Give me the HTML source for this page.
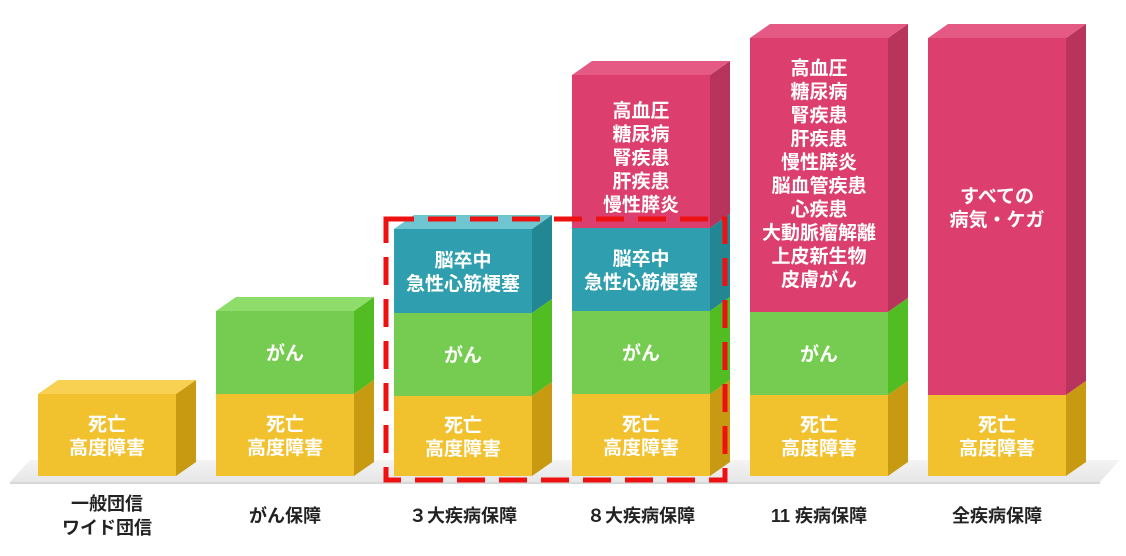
<!DOCTYPE html>
<html><head><meta charset="utf-8"><style>
html,body{margin:0;padding:0;background:#fff;width:1126px;height:556px;overflow:hidden}
svg text{font-family:"Liberation Sans","Noto Sans CJK JP",sans-serif;font-weight:bold;text-anchor:middle}
</style></head><body>
<svg id="s" width="1126" height="556" viewBox="0 0 1126 556" xmlns="http://www.w3.org/2000/svg">
<defs><linearGradient id="fl" x1="0" y1="0" x2="0" y2="1"><stop offset="0" stop-color="#f4f4f4"/><stop offset="1" stop-color="#e6e6e6"/></linearGradient></defs>
<polygon points="30,460 1120,460 1100,482 10,482" fill="url(#fl)"/>
<line x1="10" y1="483" x2="1100" y2="483" stroke="#d8d8d8" stroke-width="2"/>
<g id="bars"></g>
<rect x="386" y="219" width="339" height="261" fill="none" stroke="#ee1111" stroke-width="5" stroke-dasharray="28,14"/>
<g fill="#222" font-size="18">
<text x="107" y="510">一般団信</text><text x="107" y="534">ワイド団信</text>
<text x="285" y="522">がん保障</text>
<text x="463" y="522">３大疾病保障</text>
<text x="641" y="522">８大疾病保障</text>
<text x="819" y="522">11 疾病保障</text>
<text x="997" y="522">全疾病保障</text>
</g>
</svg>
<script>
var C={y:["#f2c12e","#f8d052","#c79a12"],g:["#76cc50","#8edc6a","#51bd22"],t:["#2f9eae","#6fc5d0","#238693"],p:["#dc3f6d","#e45a84","#b9345d"]};
var cols=[
 {x:38,s:[["y",394,476,["死亡","高度障害"]]]},
 {x:216,s:[["g",311,394,["がん"]],["y",394,476,["死亡","高度障害"]]]},
 {x:394,s:[["t",229,313,["脳卒中","急性心筋梗塞"]],["g",313,396,["がん"]],["y",396,476,["死亡","高度障害"]]]},
 {x:572,s:[["p",75,228,["高血圧","糖尿病","腎疾患","肝疾患","慢性膵炎"]],["t",228,311,["脳卒中","急性心筋梗塞"]],["g",311,394,["がん"]],["y",394,476,["死亡","高度障害"]]]},
 {x:750,s:[["p",38,312,["高血圧","糖尿病","腎疾患","肝疾患","慢性膵炎","脳血管疾患","心疾患","大動脈瘤解離","上皮新生物","皮膚がん"]],["g",312,395,["がん"]],["y",395,476,["死亡","高度障害"]]]},
 {x:928,s:[["p",38,395,["すべての","病気・ケガ"]],["y",395,476,["死亡","高度障害"]]]}
];
var h="";
cols.forEach(function(c){
 var x=c.x,w=138,d=20,k=14;
 c.s.forEach(function(s,i){
  var col=C[s[0]],y1=s[1],y2=s[2];
  h+='<rect x="'+x+'" y="'+y1+'" width="'+w+'" height="'+(y2-y1)+'" fill="'+col[0]+'"/>';
  h+='<polygon points="'+(x+w)+','+y1+' '+(x+w+d)+','+(y1-k)+' '+(x+w+d)+','+(y2-k)+' '+(x+w)+','+y2+'" fill="'+col[2]+'"/>';
  if(i==0)h+='<polygon points="'+x+','+y1+' '+(x+d)+','+(y1-k)+' '+(x+w+d)+','+(y1-k)+' '+(x+w)+','+y1+'" fill="'+col[1]+'"/>';
  var L=s[3],lh=23.5,cy;
  if(s[0]=="p"&&c.x==572)cy=157;else if(s[0]=="p"&&c.x==750)cy=173;else if(s[0]=="p")cy=207;else cy=(y1+y2)/2;
  var top=cy-(L.length-1)*lh/2+7;
  L.forEach(function(t,j){h+='<text x="'+(x+w/2)+'" y="'+(top+j*lh)+'" fill="#fff" font-size="19">'+t+'</text>';});
 });
});
document.getElementById("bars").innerHTML=h;
</script>
</body></html>
